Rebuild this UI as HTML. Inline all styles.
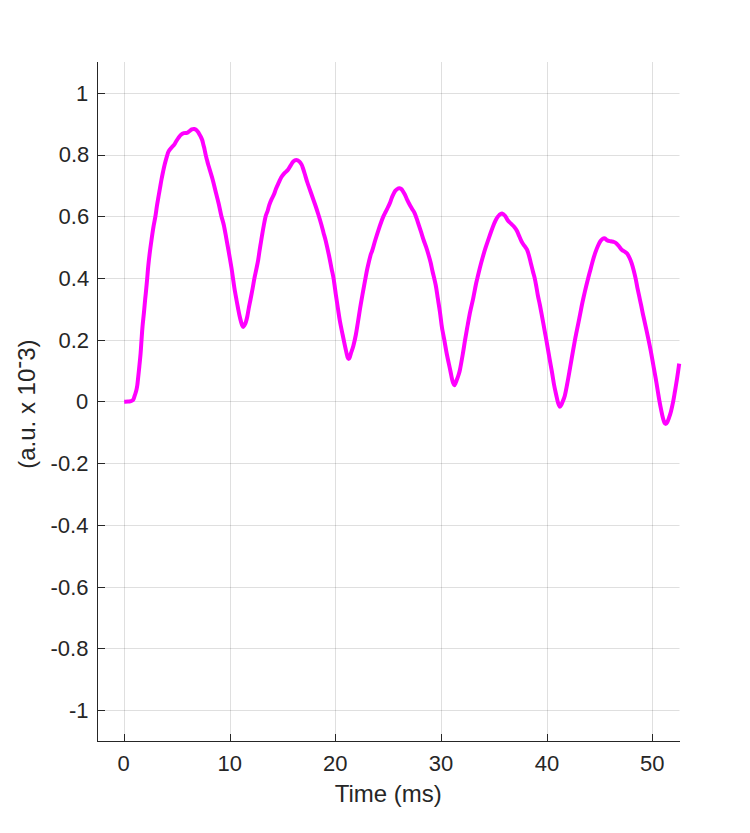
<!DOCTYPE html>
<html><head><meta charset="utf-8"><title>Plot</title>
<style>html,body{margin:0;padding:0;background:#fff;font-family:"Liberation Sans",sans-serif}svg{display:block}</style>
</head><body>
<svg width="750" height="833" viewBox="0 0 750 833">
<rect width="750" height="833" fill="#fff"/>
<g fill="#262626" fill-opacity="0.15" shape-rendering="crispEdges"><rect x="124" y="62" width="1" height="679"/><rect x="230" y="62" width="1" height="679"/><rect x="335" y="62" width="1" height="679"/><rect x="441" y="62" width="1" height="679"/><rect x="547" y="62" width="1" height="679"/><rect x="652" y="62" width="1" height="679"/><rect x="98" y="93" width="581" height="1"/><rect x="679" y="93" width="1" height="1" fill-opacity="0.075"/><rect x="98" y="155" width="581" height="1"/><rect x="679" y="155" width="1" height="1" fill-opacity="0.075"/><rect x="98" y="216" width="581" height="1"/><rect x="679" y="216" width="1" height="1" fill-opacity="0.075"/><rect x="98" y="278" width="581" height="1"/><rect x="679" y="278" width="1" height="1" fill-opacity="0.075"/><rect x="98" y="340" width="581" height="1"/><rect x="679" y="340" width="1" height="1" fill-opacity="0.075"/><rect x="98" y="401" width="581" height="1"/><rect x="679" y="401" width="1" height="1" fill-opacity="0.075"/><rect x="98" y="463" width="581" height="1"/><rect x="679" y="463" width="1" height="1" fill-opacity="0.075"/><rect x="98" y="525" width="581" height="1"/><rect x="679" y="525" width="1" height="1" fill-opacity="0.075"/><rect x="98" y="587" width="581" height="1"/><rect x="679" y="587" width="1" height="1" fill-opacity="0.075"/><rect x="98" y="648" width="581" height="1"/><rect x="679" y="648" width="1" height="1" fill-opacity="0.075"/><rect x="98" y="710" width="581" height="1"/><rect x="679" y="710" width="1" height="1" fill-opacity="0.075"/></g>
<path d="M124.20 401.70C124.83 401.68 126.97 401.67 128.00 401.60C129.03 401.53 129.73 401.45 130.40 401.30C131.07 401.15 131.48 401.05 132.00 400.70C132.52 400.35 133.10 399.88 133.50 399.20C133.90 398.52 134.07 397.58 134.40 396.60C134.73 395.62 135.15 394.47 135.50 393.30C135.85 392.13 136.20 390.93 136.50 389.60C136.80 388.27 137.07 386.90 137.30 385.30C137.53 383.70 137.57 383.10 137.90 380.00C138.23 376.90 138.85 371.15 139.30 366.70C139.75 362.25 140.23 357.70 140.60 353.30C140.97 348.90 141.18 344.73 141.50 340.30C141.82 335.87 142.10 331.25 142.50 326.70C142.90 322.15 143.47 317.45 143.90 313.00C144.33 308.55 144.78 303.28 145.10 300.00C145.42 296.72 145.45 296.90 145.80 293.30C146.15 289.70 146.80 282.83 147.20 278.40C147.60 273.97 147.78 270.88 148.20 266.70C148.62 262.52 149.15 257.75 149.70 253.30C150.25 248.85 150.87 244.43 151.50 240.00C152.13 235.57 152.85 230.63 153.50 226.70C154.15 222.77 154.85 219.73 155.40 216.40C155.95 213.07 156.37 209.52 156.80 206.70C157.23 203.88 157.70 201.28 158.00 199.50C158.30 197.72 158.27 197.92 158.60 196.00C158.93 194.08 159.53 190.67 160.00 188.00C160.47 185.33 160.90 182.67 161.40 180.00C161.90 177.33 162.43 174.67 163.00 172.00C163.57 169.33 164.10 166.77 164.80 164.00C165.50 161.23 166.63 157.35 167.20 155.40C167.77 153.45 167.78 153.23 168.20 152.30C168.62 151.37 169.08 150.65 169.70 149.80C170.32 148.95 171.12 148.10 171.90 147.20C172.68 146.30 173.68 145.40 174.40 144.40C175.12 143.40 175.50 142.33 176.20 141.20C176.90 140.07 177.80 138.67 178.60 137.60C179.40 136.53 180.13 135.53 181.00 134.80C181.87 134.07 182.80 133.53 183.80 133.20C184.80 132.87 186.07 133.13 187.00 132.80C187.93 132.47 188.60 131.77 189.40 131.20C190.20 130.63 191.00 129.77 191.80 129.40C192.60 129.03 193.40 128.87 194.20 129.00C195.00 129.13 195.87 129.57 196.60 130.20C197.33 130.83 197.93 131.77 198.60 132.80C199.27 133.83 200.00 135.20 200.60 136.40C201.20 137.60 201.73 138.60 202.20 140.00C202.67 141.40 203.00 143.20 203.40 144.80C203.80 146.40 204.20 147.83 204.60 149.60C205.00 151.37 205.40 153.67 205.80 155.40C206.20 157.13 206.57 158.35 207.00 160.00C207.43 161.65 207.45 162.02 208.40 165.30C209.35 168.58 211.43 175.08 212.70 179.70C213.97 184.32 215.00 189.00 216.00 193.00C217.00 197.00 217.82 199.92 218.70 203.70C219.58 207.48 220.45 212.15 221.30 215.70C222.15 219.25 222.97 221.23 223.80 225.00C224.63 228.77 225.48 233.85 226.30 238.30C227.12 242.75 227.83 246.75 228.70 251.70C229.57 256.65 230.78 263.55 231.50 268.00C232.22 272.45 232.52 275.07 233.00 278.40C233.48 281.73 233.82 284.40 234.40 288.00C234.98 291.60 235.90 296.67 236.50 300.00C237.10 303.33 237.48 305.33 238.00 308.00C238.52 310.67 239.07 313.60 239.60 316.00C240.13 318.40 240.77 320.83 241.20 322.40C241.63 323.97 241.87 324.65 242.20 325.40C242.53 326.15 242.85 326.90 243.20 326.90C243.55 326.90 243.87 326.15 244.30 325.40C244.73 324.65 245.28 323.97 245.80 322.40C246.32 320.83 246.90 318.40 247.40 316.00C247.90 313.60 248.30 310.67 248.80 308.00C249.30 305.33 249.75 303.33 250.40 300.00C251.05 296.67 252.03 291.60 252.70 288.00C253.37 284.40 253.75 281.73 254.40 278.40C255.05 275.07 255.97 271.10 256.60 268.00C257.23 264.90 257.72 262.63 258.20 259.80C258.68 256.97 259.07 253.80 259.50 251.00C259.93 248.20 260.37 245.67 260.80 243.00C261.23 240.33 261.65 237.67 262.10 235.00C262.55 232.33 262.92 230.10 263.50 227.00C264.08 223.90 264.92 219.07 265.60 216.40C266.28 213.73 266.97 212.97 267.60 211.00C268.23 209.03 268.72 206.60 269.40 204.60C270.08 202.60 270.93 200.72 271.70 199.00C272.47 197.28 273.28 196.02 274.00 194.30C274.72 192.58 275.22 190.63 276.00 188.70C276.78 186.77 277.82 184.60 278.70 182.70C279.58 180.80 280.30 178.93 281.30 177.30C282.30 175.67 283.58 174.17 284.70 172.90C285.82 171.63 287.00 170.97 288.00 169.70C289.00 168.43 289.82 166.67 290.70 165.30C291.58 163.93 292.37 162.37 293.30 161.50C294.23 160.63 295.30 160.10 296.30 160.10C297.30 160.10 298.42 160.75 299.30 161.50C300.18 162.25 301.00 163.52 301.60 164.60C302.20 165.68 302.37 166.43 302.90 168.00C303.43 169.57 304.08 171.67 304.80 174.00C305.52 176.33 306.33 179.33 307.20 182.00C308.07 184.67 309.07 187.33 310.00 190.00C310.93 192.67 311.87 195.33 312.80 198.00C313.73 200.67 314.70 203.33 315.60 206.00C316.50 208.67 317.23 210.88 318.20 214.00C319.17 217.12 320.52 221.58 321.40 224.70C322.28 227.82 322.78 230.03 323.50 232.70C324.22 235.37 324.80 236.98 325.70 240.70C326.60 244.42 327.93 250.40 328.90 255.00C329.87 259.60 330.72 264.37 331.50 268.30C332.28 272.23 332.87 274.15 333.60 278.60C334.33 283.05 335.18 290.05 335.90 295.00C336.62 299.95 337.22 303.85 337.90 308.30C338.58 312.75 339.20 317.25 340.00 321.70C340.80 326.15 341.88 331.00 342.70 335.00C343.52 339.00 344.25 342.63 344.90 345.70C345.55 348.77 346.15 351.48 346.60 353.40C347.05 355.32 347.25 356.27 347.60 357.20C347.95 358.13 348.33 359.00 348.70 359.00C349.07 359.00 349.43 358.13 349.80 357.20C350.17 356.27 350.30 355.32 350.90 353.40C351.50 351.48 352.58 348.77 353.40 345.70C354.22 342.63 355.03 339.00 355.80 335.00C356.57 331.00 357.28 326.15 358.00 321.70C358.72 317.25 359.37 312.75 360.10 308.30C360.83 303.85 361.52 299.95 362.40 295.00C363.28 290.05 364.57 283.05 365.40 278.60C366.23 274.15 366.53 272.23 367.40 268.30C368.27 264.37 369.80 257.93 370.60 255.00C371.40 252.07 371.42 253.20 372.20 250.70C372.98 248.20 374.22 243.57 375.30 240.00C376.38 236.43 377.67 232.42 378.70 229.30C379.73 226.18 380.72 223.45 381.50 221.30C382.28 219.15 382.72 217.95 383.40 216.40C384.08 214.85 384.90 213.40 385.60 212.00C386.30 210.60 386.90 209.45 387.60 208.00C388.30 206.55 389.07 205.10 389.80 203.30C390.53 201.50 391.33 198.87 392.00 197.20C392.67 195.53 393.25 194.37 393.80 193.30C394.35 192.23 394.77 191.48 395.30 190.80C395.83 190.12 396.52 189.58 397.00 189.20C397.48 188.82 397.77 188.68 398.20 188.50C398.63 188.32 399.08 188.07 399.60 188.15C400.12 188.23 400.73 188.46 401.30 189.00C401.87 189.54 402.43 190.53 403.00 191.40C403.57 192.27 404.18 193.22 404.70 194.20C405.22 195.18 405.70 196.40 406.10 197.30C406.50 198.20 406.57 198.48 407.10 199.60C407.63 200.72 408.48 202.48 409.30 204.00C410.12 205.52 411.10 207.15 412.00 208.70C412.90 210.25 413.92 211.63 414.70 213.30C415.48 214.97 416.00 216.70 416.70 218.70C417.40 220.70 418.13 222.97 418.90 225.30C419.67 227.63 420.52 230.25 421.30 232.70C422.08 235.15 422.82 237.67 423.60 240.00C424.38 242.33 425.18 244.25 426.00 246.70C426.82 249.15 427.72 252.03 428.50 254.70C429.28 257.37 430.05 260.03 430.70 262.70C431.35 265.37 431.57 266.98 432.40 270.70C433.23 274.42 434.80 280.40 435.70 285.00C436.60 289.60 437.10 293.85 437.80 298.30C438.50 302.75 439.27 307.25 439.90 311.70C440.53 316.15 441.18 321.95 441.60 325.00C442.02 328.05 441.93 327.43 442.40 330.00C442.87 332.57 443.67 336.40 444.40 340.40C445.13 344.40 445.83 349.07 446.80 354.00C447.77 358.93 449.37 366.00 450.20 370.00C451.03 374.00 451.33 375.90 451.80 378.00C452.27 380.10 452.58 381.40 453.00 382.60C453.42 383.80 453.85 385.17 454.30 385.20C454.75 385.23 455.27 383.75 455.70 382.80C456.13 381.85 456.48 380.63 456.90 379.50C457.32 378.37 457.70 377.58 458.20 376.00C458.70 374.42 459.13 373.67 459.90 370.00C460.67 366.33 461.95 358.93 462.80 354.00C463.65 349.07 464.33 344.40 465.00 340.40C465.67 336.40 466.35 332.57 466.80 330.00C467.25 327.43 467.13 328.05 467.70 325.00C468.27 321.95 469.28 316.15 470.20 311.70C471.12 307.25 472.27 302.75 473.20 298.30C474.13 293.85 475.10 288.37 475.80 285.00C476.50 281.63 476.72 280.98 477.40 278.10C478.08 275.22 479.00 271.22 479.90 267.70C480.80 264.18 481.85 260.33 482.80 257.00C483.75 253.67 484.60 250.82 485.60 247.70C486.60 244.58 487.80 241.20 488.80 238.30C489.80 235.40 490.72 232.73 491.60 230.30C492.48 227.87 493.27 225.68 494.10 223.70C494.93 221.72 495.75 219.83 496.60 218.40C497.45 216.97 498.30 215.93 499.20 215.10C500.10 214.27 501.00 213.25 502.00 213.40C503.00 213.55 504.25 214.85 505.20 216.00C506.15 217.15 506.73 219.02 507.70 220.30C508.67 221.58 509.90 222.58 511.00 223.70C512.10 224.82 513.30 225.78 514.30 227.00C515.30 228.22 516.17 229.45 517.00 231.00C517.83 232.55 518.52 234.52 519.30 236.30C520.08 238.08 520.87 240.13 521.70 241.70C522.53 243.27 523.42 244.37 524.30 245.70C525.18 247.03 526.22 248.03 527.00 249.70C527.78 251.37 528.33 253.37 529.00 255.70C529.67 258.03 530.33 261.03 531.00 263.70C531.67 266.37 532.38 269.30 533.00 271.70C533.62 274.10 534.15 275.67 534.70 278.10C535.25 280.53 535.77 283.37 536.30 286.30C536.83 289.23 537.30 292.58 537.90 295.70C538.50 298.82 539.15 301.23 539.90 305.00C540.65 308.77 541.58 313.85 542.40 318.30C543.22 322.75 544.13 328.03 544.80 331.70C545.47 335.37 545.62 335.87 546.40 340.30C547.18 344.73 548.58 353.07 549.50 358.30C550.42 363.53 551.13 367.25 551.90 371.70C552.67 376.15 553.35 381.00 554.10 385.00C554.85 389.00 555.77 392.82 556.40 395.70C557.03 398.58 557.48 400.75 557.90 402.30C558.32 403.85 558.55 404.25 558.90 405.00C559.25 405.75 559.62 406.80 560.00 406.80C560.38 406.80 560.77 405.83 561.20 405.00C561.63 404.17 562.00 403.35 562.60 401.80C563.20 400.25 564.07 398.50 564.80 395.70C565.53 392.90 566.23 389.00 567.00 385.00C567.77 381.00 568.62 376.15 569.40 371.70C570.18 367.25 570.78 363.53 571.70 358.30C572.62 353.07 574.08 344.73 574.90 340.30C575.72 335.87 575.87 335.37 576.60 331.70C577.33 328.03 578.42 322.75 579.30 318.30C580.18 313.85 581.17 308.60 581.90 305.00C582.63 301.40 583.03 299.65 583.70 296.70C584.37 293.75 585.17 290.35 585.90 287.30C586.63 284.25 587.30 281.50 588.10 278.40C588.90 275.30 589.92 271.65 590.70 268.70C591.48 265.75 592.03 263.37 592.80 260.70C593.57 258.03 594.45 255.15 595.30 252.70C596.15 250.25 597.05 247.92 597.90 246.00C598.75 244.08 599.62 242.38 600.40 241.20C601.18 240.02 601.85 239.37 602.60 238.90C603.35 238.43 604.12 238.15 604.90 238.40C605.68 238.65 606.33 239.92 607.30 240.40C608.27 240.88 609.58 241.03 610.70 241.30C611.82 241.57 613.00 241.60 614.00 242.00C615.00 242.40 615.82 242.92 616.70 243.70C617.58 244.48 618.42 245.65 619.30 246.70C620.18 247.75 621.10 249.17 622.00 250.00C622.90 250.83 623.82 251.08 624.70 251.70C625.58 252.32 626.48 252.65 627.30 253.70C628.12 254.75 628.87 256.40 629.60 258.00C630.33 259.60 631.03 261.30 631.70 263.30C632.37 265.30 632.95 267.48 633.60 270.00C634.25 272.52 634.98 275.52 635.60 278.40C636.22 281.28 636.68 284.25 637.30 287.30C637.92 290.35 638.63 293.58 639.30 296.70C639.97 299.82 640.70 303.12 641.30 306.00C641.90 308.88 642.38 311.55 642.90 314.00C643.42 316.45 643.43 316.27 644.40 320.70C645.37 325.13 647.62 335.43 648.70 340.60C649.78 345.77 650.13 347.63 650.90 351.70C651.67 355.77 652.50 360.57 653.30 365.00C654.10 369.43 654.93 373.85 655.70 378.30C656.47 382.75 657.27 387.85 657.90 391.70C658.53 395.55 658.90 398.07 659.50 401.40C660.10 404.73 660.92 408.88 661.50 411.70C662.08 414.52 662.53 416.53 663.00 418.30C663.47 420.07 663.85 421.33 664.30 422.30C664.75 423.27 665.22 424.10 665.70 424.10C666.18 424.10 666.68 423.27 667.20 422.30C667.72 421.33 668.18 420.07 668.80 418.30C669.42 416.53 670.17 414.52 670.90 411.70C671.63 408.88 672.53 404.73 673.20 401.40C673.87 398.07 674.25 395.55 674.90 391.70C675.55 387.85 676.38 382.98 677.10 378.30C677.82 373.62 678.85 366.05 679.20 363.60" fill="none" stroke="#ff00ff" stroke-width="4" stroke-linejoin="round" stroke-linecap="butt"/>
<g fill="#262626" shape-rendering="crispEdges"><rect x="97" y="62" width="1" height="680"/><rect x="97" y="741" width="583" height="1"/><rect x="124" y="734" width="1" height="7"/><rect x="230" y="734" width="1" height="7"/><rect x="335" y="734" width="1" height="7"/><rect x="441" y="734" width="1" height="7"/><rect x="547" y="734" width="1" height="7"/><rect x="652" y="734" width="1" height="7"/><rect x="98" y="93" width="7" height="1"/><rect x="98" y="155" width="7" height="1"/><rect x="98" y="216" width="7" height="1"/><rect x="98" y="278" width="7" height="1"/><rect x="98" y="340" width="7" height="1"/><rect x="98" y="401" width="7" height="1"/><rect x="98" y="463" width="7" height="1"/><rect x="98" y="525" width="7" height="1"/><rect x="98" y="587" width="7" height="1"/><rect x="98" y="648" width="7" height="1"/><rect x="98" y="710" width="7" height="1"/></g>
<g fill="#262626" font-family="&quot;Liberation Sans&quot;, sans-serif" font-size="22">
<text x="123.6" y="771.1" text-anchor="middle">0</text>
<text x="229.7" y="771.1" text-anchor="middle">10</text>
<text x="335.3" y="771.1" text-anchor="middle">20</text>
<text x="440.9" y="771.1" text-anchor="middle">30</text>
<text x="547.1" y="771.1" text-anchor="middle">40</text>
<text x="652.3" y="771.1" text-anchor="middle">50</text>
<text x="88.3" y="100.76" text-anchor="end">1</text>
<text x="89.3" y="162.487" text-anchor="end">0.8</text>
<text x="89.2" y="224.214" text-anchor="end">0.6</text>
<text x="89.2" y="285.941" text-anchor="end">0.4</text>
<text x="89.1" y="347.668" text-anchor="end">0.2</text>
<text x="88.3" y="409.395" text-anchor="end">0</text>
<text x="88.5" y="471.122" text-anchor="end">-0.2</text>
<text x="88.4" y="532.849" text-anchor="end">-0.4</text>
<text x="88.5" y="594.576" text-anchor="end">-0.6</text>
<text x="88.4" y="656.303" text-anchor="end">-0.8</text>
<text x="88.5" y="718.03" text-anchor="end">-1</text>
<text x="388.2" y="802" text-anchor="middle" font-size="24">Time (ms)</text>
<text transform="translate(35.1 404.1) rotate(-90)" x="0" y="0" text-anchor="middle" font-size="24">(a.u. x 10<tspan dy="-9">-</tspan><tspan dy="9">3)</tspan></text>
</g>
</svg>
</body></html>
